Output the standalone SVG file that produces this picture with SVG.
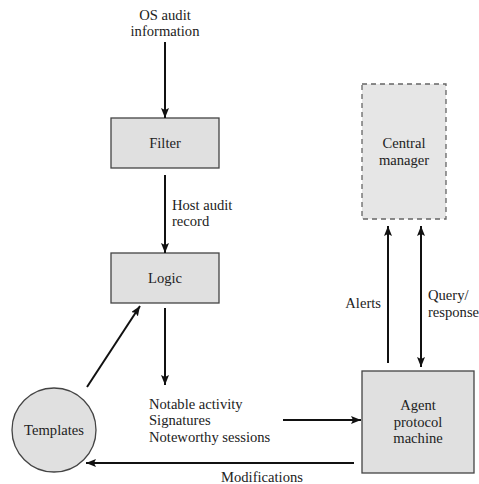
<svg xmlns="http://www.w3.org/2000/svg" width="479" height="484" viewBox="0 0 479 484">
<defs>
<marker id="ah" markerWidth="10" markerHeight="8" refX="10" refY="4" orient="auto-start-reverse" markerUnits="userSpaceOnUse">
<path d="M0,0 L10,4 L0,8 L2,4 Z" fill="#111"/>
</marker>
</defs>
<style>
text{font-family:"Liberation Serif","Times New Roman",serif;font-size:14.6px;fill:#222}
.box{fill:#e0e0e0;stroke:#444;stroke-width:1.3}
.dash{fill:#e6e6e6;stroke:#666;stroke-width:1.3;stroke-dasharray:5,4}
.c{stroke:#111;stroke-width:2;fill:none}
.m{text-anchor:middle}
</style>
<rect width="479" height="484" fill="#fff"/>
<g id="filter"><rect class="box" x="111" y="118" width="108" height="50"/><text class="m" x="165" y="148">Filter</text></g>
<g id="logic"><rect class="box" x="111" y="253" width="108" height="50"/><text class="m" x="165" y="283">Logic</text></g>
<g id="central"><rect class="dash" x="362" y="84" width="84" height="135"/><text class="m" x="404" y="148">Central</text><text class="m" x="404" y="165">manager</text></g>
<g id="agent"><rect class="box" x="362" y="371" width="112" height="102"/><text class="m" x="418" y="410">Agent</text><text class="m" x="418" y="427">protocol</text><text class="m" x="418" y="443">machine</text></g>
<g id="templates"><circle cx="54" cy="430" r="42" fill="#e0e0e0" stroke="#444" stroke-width="1.3"/><text class="m" x="54" y="435">Templates</text></g>
<g id="labels">
<text class="m" x="165" y="20">OS audit</text>
<text class="m" x="165" y="36">information</text>
<text x="172" y="210">Host audit</text>
<text x="172" y="226">record</text>
<text x="149" y="409">Notable activity</text>
<text x="149" y="425">Signatures</text>
<text x="149" y="442">Noteworthy sessions</text>
<text x="381" y="308" text-anchor="end">Alerts</text>
<text x="428" y="300">Query/</text>
<text x="428" y="317">response</text>
<text class="m" x="262" y="482">Modifications</text>
</g>
<g id="connectors">
<line class="c" x1="165" y1="42" x2="165" y2="118" marker-end="url(#ah)"/>
<line class="c" x1="165" y1="175" x2="165" y2="253" marker-end="url(#ah)"/>
<line class="c" x1="165" y1="308" x2="165" y2="385" marker-end="url(#ah)"/>
<line class="c" x1="87" y1="387" x2="140" y2="306" marker-end="url(#ah)"/>
<line class="c" x1="283" y1="420" x2="361" y2="420" marker-end="url(#ah)"/>
<line class="c" x1="354" y1="463" x2="86" y2="463" marker-end="url(#ah)"/>
<line class="c" x1="388" y1="363" x2="388" y2="226" marker-end="url(#ah)"/>
<line class="c" x1="421" y1="226" x2="421" y2="367" marker-start="url(#ah)" marker-end="url(#ah)"/>
</g>
</svg>
